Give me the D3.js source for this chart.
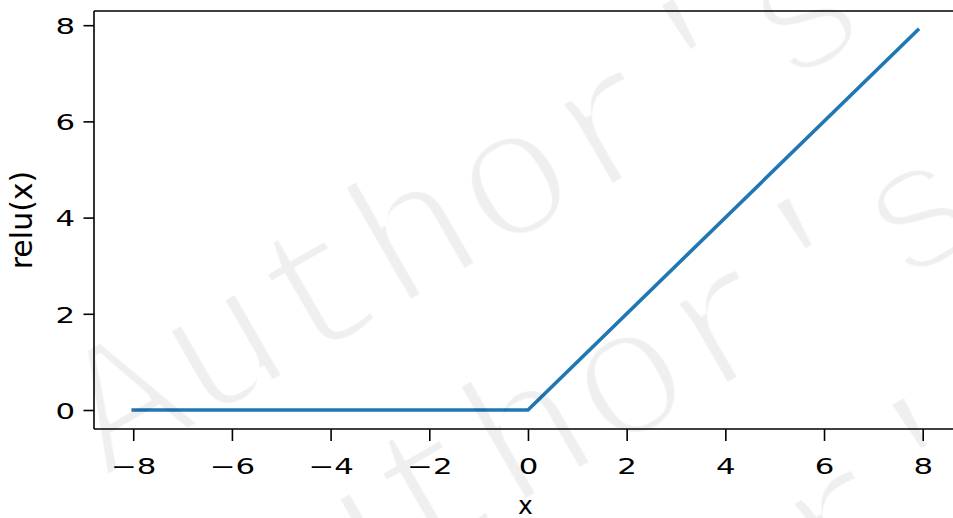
<!DOCTYPE html>
<html>
<head>
<meta charset="utf-8">
<script src="https://cdn.jsdelivr.net/npm/d3@7"></script>
<style>
  html, body { margin: 0; padding: 0; background: #ffffff; }
  svg { display: block; }
</style>
</head>
<body>
<svg id="chart" width="953" height="518"></svg>
<script>
// ReLU curve: sampled from x = -8 to 7.9; it is flat at 0 and rises after the kink at 0
const reluX = [-8, 0, 7.9];
const reluY = [0, 0, 7.9];

// Axis ticks
const xTicks = [-8, -6, -4, -2, 0, 2, 4, 6, 8];
const yTicks = [0, 2, 4, 6, 8];

// Axis titles and watermark text
const xTitle = "x";
const yTitle = "relu(x)";
const watermarkLines = ["Author's", "Author's", "Author's"];

const W = 953, H = 518;
const plot = { left: 94, top: 11, right: 957, bottom: 429 };

// 5% padding around the data range on both axes
function padded(values) {
  const lo = d3.min(values), hi = d3.max(values);
  const pad = (hi - lo) * 0.05;
  return [lo - pad, hi + pad];
}

const x = d3.scaleLinear().domain(padded(reluX)).range([plot.left, plot.right]);
const y = d3.scaleLinear().domain(padded(reluY)).range([plot.bottom, plot.top]);

const svg = d3.select("#chart");
svg.append("rect").attr("width", W).attr("height", H).attr("fill", "#ffffff");

// thin strokes for the watermark glyphs
const defs = svg.append("defs");
defs.append("filter").attr("id", "thin")
  .attr("x", "-5%").attr("y", "-5%").attr("width", "110%").attr("height", "110%")
  .append("feMorphology").attr("operator", "erode").attr("radius", 2.6);

const fmt = d3.format("d");
const TICK_FONT = "DejaVu Sans, Liberation Sans, sans-serif";

// Curve
const line = d3.line().x((d, i) => x(reluX[i])).y((d, i) => y(reluY[i]));
svg.append("path")
  .datum(reluX)
  .attr("d", line)
  .attr("fill", "none")
  .attr("stroke", "#1f77b4")
  .attr("stroke-width", 3.6)
  .attr("stroke-linecap", "square")
  .attr("stroke-linejoin", "round");

// Bottom axis
const gx = svg.append("g")
  .attr("transform", `translate(0,${plot.bottom})`)
  .call(d3.axisBottom(x).tickValues(xTicks).tickFormat(fmt).tickSize(12).tickSizeOuter(0));
gx.select(".domain").remove();
gx.selectAll(".tick line").attr("stroke", "#000").attr("stroke-width", 1.6);
gx.selectAll(".tick text")
  .attr("y", null).attr("dy", null)
  .attr("transform", "translate(0,45) scale(1.4,1)")
  .attr("fill", "#000")
  .attr("font-family", TICK_FONT)
  .attr("font-size", 22)
  .attr("text-anchor", "middle");

// Left axis
const gy = svg.append("g")
  .attr("transform", `translate(${plot.left},0)`)
  .call(d3.axisLeft(y).tickValues(yTicks).tickFormat(fmt).tickSize(10.5).tickSizeOuter(0));
gy.select(".domain").remove();
gy.selectAll(".tick line").attr("stroke", "#000").attr("stroke-width", 1.6);
gy.selectAll(".tick text")
  .attr("x", null).attr("dy", null)
  .attr("transform", "translate(-19,8.3) scale(1.4,1)")
  .attr("fill", "#000")
  .attr("font-family", TICK_FONT)
  .attr("font-size", 22)
  .attr("text-anchor", "end");

// Spines (left, top, bottom; the right one falls past the edge)
const spine = svg.append("g").attr("stroke", "#000").attr("stroke-width", 1.6).attr("fill", "none");
spine.append("line").attr("x1", plot.left).attr("x2", plot.left).attr("y1", plot.top).attr("y2", plot.bottom);
spine.append("line").attr("x1", plot.left).attr("x2", plot.right).attr("y1", plot.top).attr("y2", plot.top);
spine.append("line").attr("x1", plot.left).attr("x2", plot.right).attr("y1", plot.bottom).attr("y2", plot.bottom);
spine.append("line").attr("x1", plot.right).attr("x2", plot.right).attr("y1", plot.top).attr("y2", plot.bottom);

// Axis titles
svg.append("text")
  .attr("x", (plot.left + plot.right) / 2)
  .attr("y", 514)
  .attr("text-anchor", "middle")
  .attr("font-family", TICK_FONT)
  .attr("font-size", 25)
  .attr("fill", "#000")
  .text(xTitle);

svg.append("text")
  .attr("transform", `translate(32,${(plot.top + plot.bottom) / 2}) rotate(-90)`)
  .attr("text-anchor", "middle")
  .attr("font-family", TICK_FONT)
  .attr("font-size", 30)
  .attr("fill", "#000")
  .text(yTitle);

// Watermark: three stacked lines, tilted 30 degrees
const wmSize = 186;
const wm = svg.append("g")
  .attr("opacity", 0.06)
  .attr("filter", "url(#thin)")
  .attr("transform", "translate(582,412) rotate(-30)");
wm.selectAll("text")
  .data(watermarkLines)
  .join("text")
  .attr("x", 0)
  .attr("y", (d, i) => (i - 1) * wmSize * 1.24 + wmSize * 0.27)
  .attr("text-anchor", "middle")
  .attr("font-family", "Liberation Mono, DejaVu Sans Mono, monospace")
  .attr("font-size", wmSize)
  .attr("fill", "#000")
  .text(d => d);
</script>
</body>
</html>
